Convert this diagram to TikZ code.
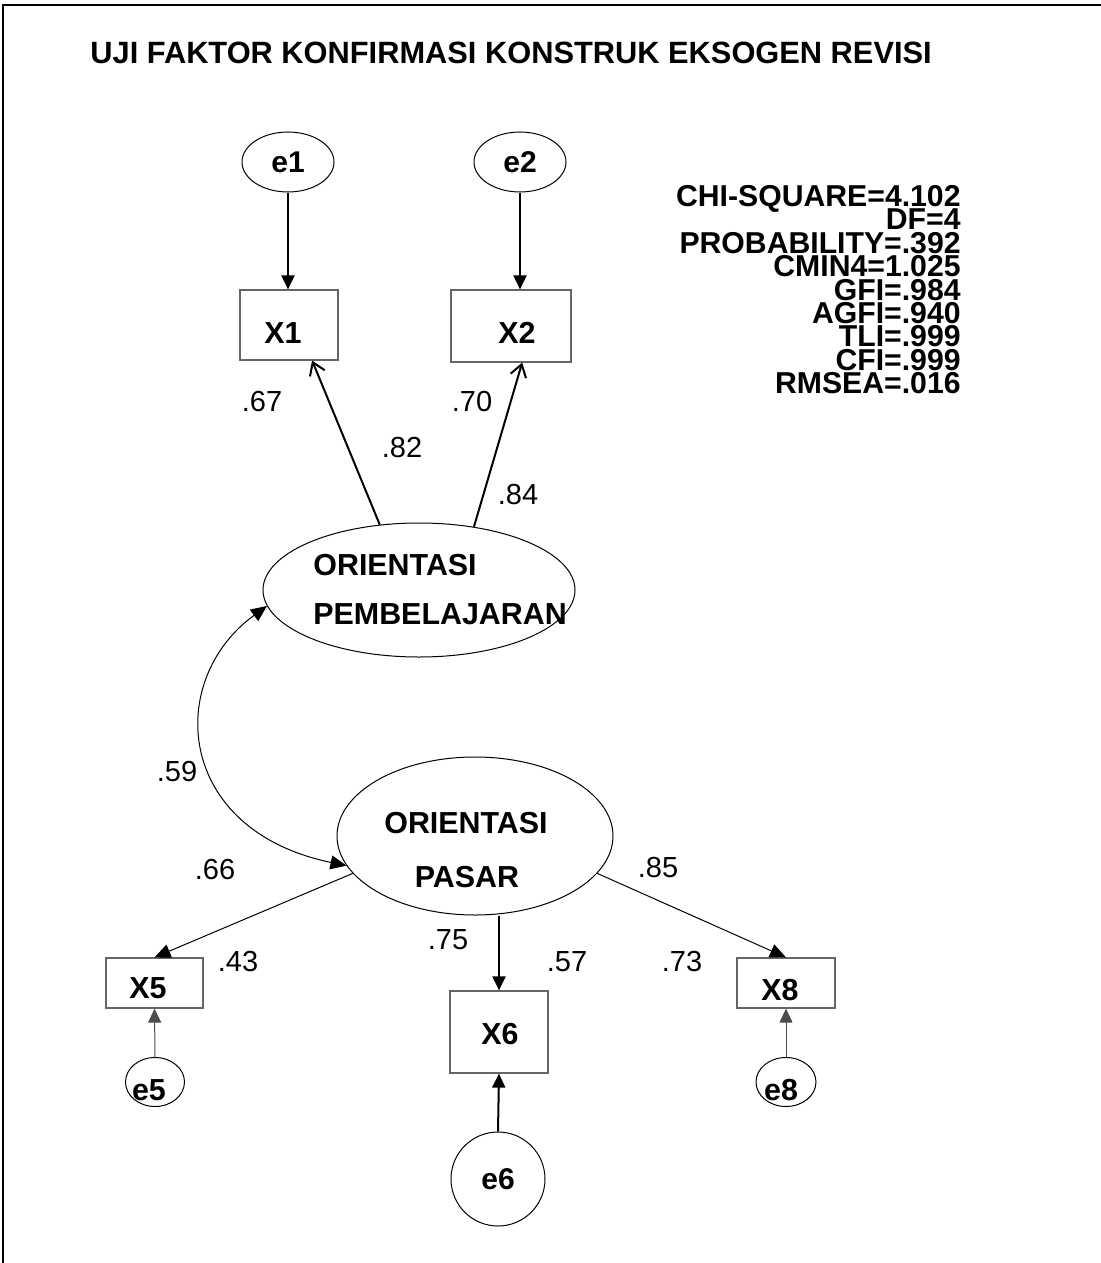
\documentclass[tikz,border=0pt]{standalone}
\usepackage{fontspec}
\setmainfont{Liberation Sans}
\usetikzlibrary{shapes.geometric,arrows.meta}
\newcommand\fitfont{\fontsize{15.1}{11.7}\selectfont\bfseries\lineskiplimit=-30pt\relax}

\begin{document}
\begin{tikzpicture}[x=0.5pt,y=-0.5pt]
    % --- CANVAS (1 unit = 1 pixel of the original) ---
    \useasboundingbox (0,0) rectangle (1101,1263);
    \draw[line width=1pt] (3,1263) -- (3,5) -- (1101,5);

    % --- STYLES ---
    \tikzset{
        latentNode/.style={ellipse, draw=black, line width=0.5pt, inner sep=0pt},
        errorNode/.style={ellipse, draw=black, line width=0.5pt, inner sep=0pt, font=\fontsize{15}{18}\selectfont\bfseries},
        obsNode/.style={rectangle, draw=black!60, line width=0.6pt, inner sep=0pt, font=\fontsize{15}{18}\selectfont\bfseries},
        nameText/.style={inner sep=0pt, font=\fontsize{15.2}{18}\selectfont\bfseries},
        coefText/.style={inner sep=0pt, font=\fontsize{14.5}{17}\selectfont},
        thickPath/.style={-{Triangle[length=7pt,width=6.5pt]}, line width=1pt},
        thinPath/.style={-{Triangle[length=8pt,width=7pt]}, line width=0.5pt},
        greyPath/.style={-{Triangle[length=7pt,width=6.5pt]}, line width=0.5pt, draw=black!70},
        loadPath/.style={-{Straight Barb[length=6pt,width=8pt]}, line width=1pt}
    }

    % --- TITLE AND FIT INDICES ---
    \node[nameText, anchor=west, font=\fontsize{15.4}{18}\selectfont\bfseries] (title) at (90,53) {UJI FAKTOR KONFIRMASI KONSTRUK EKSOGEN REVISI};
    \node[inner sep=0pt, anchor=north east, align=right, font=\fitfont] (fit) at (961,185)
          {CHI-SQUARE=4.102\\DF=4\\PROBABILITY=.392\\CMIN4=1.025\\GFI=.984\\AGFI=.940\\TLI=.999\\CFI=.999\\RMSEA=.016};

    % --- NODES ---

    % Upper construct and its indicators
    \node[errorNode, minimum width=46pt, minimum height=30pt] (e1) at (288,162) {e1};
    \node[errorNode, minimum width=46pt, minimum height=30pt] (e2) at (520,162) {e2};
    \node[obsNode, minimum width=49pt, minimum height=35pt] (x1) at (289,325) {};
    \node[obsNode, minimum width=60pt, minimum height=36pt] (x2) at (511,326) {};
    \node[nameText] (x1txt) at (283,333) {X1};
    \node[nameText] (x2txt) at (517,333) {X2};
    \node[latentNode, minimum width=156pt, minimum height=67pt] (pemb) at (419,590) {};
    \node[nameText, anchor=west] (pembA) at (313,565) {ORIENTASI};
    \node[nameText, anchor=west] (pembB) at (313,614) {PEMBELAJARAN};

    % Lower construct and its indicators
    \node[latentNode, minimum width=138pt, minimum height=79pt] (pasar) at (475,836) {};
    \node[nameText] (pasarA) at (466,823) {ORIENTASI};
    \node[nameText] (pasarB) at (467,877) {PASAR};
    \node[obsNode, minimum width=48.5pt, minimum height=25pt] (x5) at (154.5,983) {};
    \node[obsNode, minimum width=49pt, minimum height=41pt] (x6) at (499,1032) {};
    \node[obsNode, minimum width=49pt, minimum height=25pt] (x8) at (786,983) {};
    \node[nameText] (x5txt) at (148,988) {X5};
    \node[nameText] (x6txt) at (500,1034) {X6};
    \node[nameText] (x8txt) at (780,990) {X8};
    \node[errorNode, minimum width=29.5pt, minimum height=24.5pt] (e5) at (155,1082) {};
    \node[errorNode, minimum width=30pt, minimum height=24.5pt] (e8) at (786,1082) {};
    \node[errorNode, minimum width=47pt, minimum height=47pt] (e6) at (498,1179) {e6};
    \node[nameText] (e5txt) at (149,1090) {e5};
    \node[nameText] (e8txt) at (781,1090) {e8};

    % Coefficients
    \node[coefText] (c67) at (262,402) {.67};
    \node[coefText] (c82) at (402,448) {.82};
    \node[coefText] (c70) at (472,402) {.70};
    \node[coefText] (c84) at (518,495) {.84};
    \node[coefText] (c59) at (177,772) {.59};
    \node[coefText] (c66) at (215,870) {.66};
    \node[coefText] (c85) at (658,868) {.85};
    \node[coefText] (c75) at (448,940) {.75};
    \node[coefText] (c43) at (238,962) {.43};
    \node[coefText] (c57) at (567,962) {.57};
    \node[coefText] (c73) at (682,962) {.73};

    % --- ARROWS ---
    \draw[thickPath] (e1.south) -- (e1.south |- x1.north);
    \draw[thickPath] (e2.south) -- (e2.south |- x2.north);
    \draw[loadPath] (pemb.121) -- (x1.-57);
    \draw[loadPath] (pemb.49) -- (x2.-73);

    % Correlation between constructs
    \draw[{Triangle[length=8pt,width=7pt]}-{Triangle[length=8pt,width=7pt]}, line width=0.5pt]
        (pemb.186) .. controls (165,680) and (175,830) .. (pasar.193);

    \draw[thinPath] (pasar.197) -- (x5.north);
    \draw[thickPath] (x6.north |- pasar.south) -- (x6.north);
    \draw[thinPath] (pasar.-17) -- (x8.north);
    \draw[greyPath] (e5.north) -- (x5.south);
    \draw[greyPath] (e8.north) -- (x8.south);
    \draw[thickPath] (e6.north) -- (x6.south);

\end{tikzpicture}
\end{document}
